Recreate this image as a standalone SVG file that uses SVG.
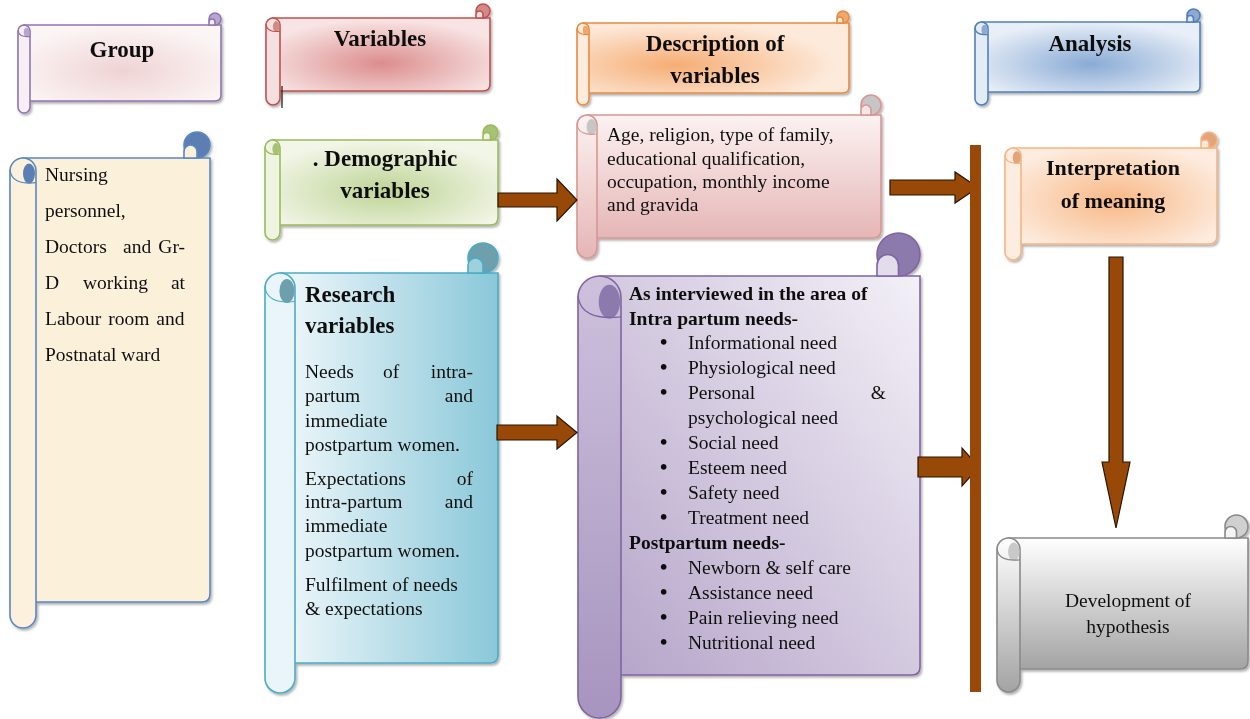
<svg xmlns="http://www.w3.org/2000/svg" width="1250" height="719" viewBox="0 0 1250 719">
<defs>
<filter id="sh" x="-5%" y="-5%" width="115%" height="115%"><feDropShadow dx="1.5" dy="2" stdDeviation="1.2" flood-color="#000" flood-opacity="0.3"/></filter>
<radialGradient id="gGroup" cx="50%" cy="60%" r="60%"><stop offset="0" stop-color="#efd3d4"/><stop offset="1" stop-color="#fcf5f5"/></radialGradient>
<radialGradient id="gVar" cx="50%" cy="62%" r="60%"><stop offset="0" stop-color="#dc8d8d"/><stop offset="1" stop-color="#f8e4e4"/></radialGradient>
<radialGradient id="gDesc" cx="35%" cy="60%" r="60%"><stop offset="0" stop-color="#f6ad74"/><stop offset="1" stop-color="#fdeadb"/></radialGradient>
<radialGradient id="gAna" cx="50%" cy="60%" r="60%"><stop offset="0" stop-color="#8aabd5"/><stop offset="1" stop-color="#e9eff8"/></radialGradient>
<radialGradient id="gDemo" cx="50%" cy="60%" r="60%"><stop offset="0" stop-color="#bfd496"/><stop offset="1" stop-color="#f2f6e8"/></radialGradient>
<radialGradient id="gInt" cx="50%" cy="55%" r="60%"><stop offset="0" stop-color="#f8b886"/><stop offset="1" stop-color="#fdecdf"/></radialGradient>
<linearGradient id="gRes" x1="0" y1="0" x2="1" y2="0"><stop offset="0" stop-color="#f0f8fb"/><stop offset="1" stop-color="#8ac8d9"/></linearGradient>
<linearGradient id="gAge" x1="0" y1="0" x2="0" y2="1"><stop offset="0" stop-color="#fcf2f2"/><stop offset="1" stop-color="#e5b6b5"/></linearGradient>
<linearGradient id="gPur" x1="1" y1="0" x2="0" y2="1"><stop offset="0" stop-color="#f3f0f7"/><stop offset="1" stop-color="#b4a3c8"/></linearGradient>
<linearGradient id="gPurRoll" x1="0" y1="0" x2="0" y2="1"><stop offset="0" stop-color="#cdc1dc"/><stop offset="1" stop-color="#a794bf"/></linearGradient>
<linearGradient id="gDev" x1="0" y1="0" x2="0" y2="1"><stop offset="0" stop-color="#ffffff"/><stop offset="1" stop-color="#a3a3a3"/></linearGradient>
</defs>
<style>
.t{font-family:"Liberation Serif","Times New Roman",serif;font-size:19.5px;fill:#111}
.b{font-weight:bold}
.bu{font-size:21px;font-weight:bold}
.h{font-family:"Liberation Serif","Times New Roman",serif;font-size:23px;font-weight:bold;fill:#111;text-anchor:middle}
.c{text-anchor:middle}
.e{text-anchor:end}
.sc{stroke-width:1.6}
.line{fill:none;stroke-width:1.2}
.arrow{fill:#984807;stroke:#2b1400;stroke-width:1.2}
.bar{fill:#984807}
</style>

<g id="group" filter="url(#sh)" stroke="#8f75b3" class="sc">
<path d="M24 25 H221 V95 Q221 101 215 101 H24 Z" fill="url(#gGroup)"/>
<circle cx="215" cy="19" r="6" fill="#b9a5cf"/>
<path d="M209 25 V22 A3 3 0 0 1 215 22 V25 Z" fill="#f6eef3"/>
<rect x="18" y="25" width="12" height="88" rx="6" fill="#f7eff4"/>
<ellipse cx="26.6" cy="32.2" rx="2.8" ry="4.5" fill="#b9a5cf" stroke="none"/>
<path class="line" d="M18 30.4 Q18.6 37.6 30 36.4"/>
<text class="h" x="122" y="57" stroke="none">Group</text>
</g>

<g id="variables" filter="url(#sh)" stroke="#c0504d" class="sc">
<path d="M273 18 H490 V84 Q490 91 483 91 H273 Z" fill="url(#gVar)"/>
<circle cx="483" cy="11" r="7" fill="#d28a88"/>
<path d="M476 18 V14.5 A3.5 3.5 0 0 1 483 14.5 V18 Z" fill="#f2dcdb"/>
<rect x="266" y="18" width="14" height="87" rx="7" fill="#f4e0df"/>
<ellipse cx="276.2" cy="26.4" rx="3.3" ry="5.3" fill="#d28a88" stroke="none"/>
<path class="line" d="M266 24.3 Q266.7 32.7 280 31.3"/>
<text class="h" x="380" y="46" stroke="none">Variables</text>
</g>
<g id="cursor"><line x1="282" y1="86" x2="282" y2="108" stroke="#1a1a1a" stroke-width="1.2"/></g>

<g id="description" filter="url(#sh)" stroke="#e98a3f" class="sc">
<path d="M583 23 H849 V87 Q849 93 843 93 H583 Z" fill="url(#gDesc)"/>
<circle cx="843" cy="17" r="6" fill="#f0a86b"/>
<path d="M837 23 V20 A3 3 0 0 1 843 20 V23 Z" fill="#fde9d9"/>
<rect x="577" y="23" width="12" height="82" rx="6" fill="#fdebdd"/>
<ellipse cx="585.6" cy="30.2" rx="2.8" ry="4.5" fill="#f0a86b" stroke="none"/>
<path class="line" d="M577 28.4 Q577.6 35.6 589 34.4"/>
<text class="h" x="715" y="51" stroke="none">Description of</text>
<text class="h" x="715" y="83" stroke="none">variables</text>
</g>

<g id="analysis" filter="url(#sh)" stroke="#4f81bd" class="sc">
<path d="M981.5 22 H1200 V86.5 Q1200 92 1193.5 92 H981.5 Z" fill="url(#gAna)"/>
<circle cx="1193.5" cy="15.5" r="6.5" fill="#8eaad0"/>
<path d="M1187 22 V18.75 A3.25 3.25 0 0 1 1193.5 18.75 V22 Z" fill="#dce6f2"/>
<rect x="975" y="22" width="13" height="83" rx="6.5" fill="#e3ebf5"/>
<ellipse cx="984.5" cy="29.8" rx="3" ry="5" fill="#8eaad0" stroke="none"/>
<path class="line" d="M975 27.85 Q975.65 35.65 988 34.35"/>
<text class="h" x="1090" y="51" stroke="none">Analysis</text>
</g>

<g id="nursing" filter="url(#sh)" stroke="#5b87c0" class="sc">
<path d="M23 158 H210 V594 Q210 602 202 602 H23 Z" fill="#fbf0da"/>
<circle cx="197" cy="145" r="13" fill="#5b7fb3"/>
<path d="M184 158 V151.5 A6.5 6.5 0 0 1 197 151.5 V158 Z" fill="#fbf0da"/>
<rect x="10" y="158" width="26" height="470" rx="13" fill="#fbf1dd"/>
<ellipse cx="29" cy="173.6" rx="6" ry="10" fill="#5b7fb3" stroke="none"/>
<path class="line" d="M10 169.7 Q11.3 185.3 36 182.7"/>
<g stroke="none">
<text class="t" x="45" y="181">Nursing</text>
<text class="t" x="45" y="217">personnel,</text>
<text class="t" x="45" y="253">Doctors</text><text class="t" x="123" y="253">and</text><text class="t e" x="185" y="253">Gr-</text>
<text class="t" x="45" y="289">D</text><text class="t" x="83" y="289">working</text><text class="t e" x="185" y="289">at</text>
<text class="t" x="45" y="325" word-spacing="2">Labour room and</text>
<text class="t" x="45" y="361">Postnatal ward</text>
</g>
</g>

<g id="demographic" filter="url(#sh)" stroke="#9bbb59" class="sc">
<path d="M272.5 140 H498 V217.5 Q498 225 490.5 225 H272.5 Z" fill="url(#gDemo)"/>
<circle cx="490.5" cy="132.5" r="7.5" fill="#a7c275"/>
<path d="M483 140 V136.25 A3.75 3.75 0 0 1 490.5 136.25 V140 Z" fill="#eef3e2"/>
<rect x="265" y="140" width="15" height="100" rx="7.5" fill="#eef3e2"/>
<ellipse cx="276" cy="149" rx="3.6" ry="6" fill="#a7c275" stroke="none"/>
<path class="line" d="M265 146.75 Q265.75 155.75 280 154.25"/>
<text class="h" x="385" y="166" stroke="none">. Demographic</text>
<text class="h" x="385" y="198" stroke="none">variables</text>
</g>

<g id="research" filter="url(#sh)" stroke="#4bacc6" class="sc">
<path d="M280 273 H498 V655 Q498 663 490 663 H280 Z" fill="url(#gRes)"/>
<circle cx="483" cy="258" r="15" fill="#6d9fac"/>
<path d="M468 273 V265.5 A7.5 7.5 0 0 1 483 265.5 V273 Z" fill="#9fd0de"/>
<rect x="265" y="273" width="30" height="420" rx="15" fill="#e9f5f9"/>
<ellipse cx="286.9" cy="291" rx="7.5" ry="12" fill="#6d9fac" stroke="none"/>
<path class="line" d="M265 286.5 Q266.5 304.5 295 301.5"/>
<g stroke="none">
<text class="t b" x="305" y="302" style="font-size:23px">Research</text>
<text class="t b" x="305" y="333" style="font-size:23px">variables</text>
<text class="t" x="305" y="378">Needs</text><text class="t" x="383" y="378">of</text><text class="t e" x="473" y="378">intra-</text>
<text class="t" x="305" y="402">partum</text><text class="t e" x="473" y="402">and</text>
<text class="t" x="305" y="427">immediate</text>
<text class="t" x="305" y="451">postpartum women.</text>
<text class="t" x="305" y="485">Expectations</text><text class="t e" x="473" y="485">of</text>
<text class="t" x="305" y="508">intra-partum</text><text class="t e" x="473" y="508">and</text>
<text class="t" x="305" y="532">immediate</text>
<text class="t" x="305" y="557">postpartum women.</text>
<text class="t" x="305" y="591">Fulfilment of needs</text>
<text class="t" x="305" y="615">&amp; expectations</text>
</g>
</g>

<g id="age" filter="url(#sh)" stroke="#d99694" class="sc">
<path d="M587 115 H881 V230 Q881 238 873 238 H587 Z" fill="url(#gAge)"/>
<circle cx="871" cy="105" r="10" fill="#c6c6c6"/>
<path d="M861 115 V110 A5 5 0 0 1 871 110 V115 Z" fill="#f7e6e6"/>
<rect x="577" y="115" width="20" height="143" rx="10" fill="url(#gAge)"/>
<ellipse cx="591.6" cy="127" rx="5" ry="8" fill="#c6c6c6" stroke="none"/>
<path class="line" d="M577 124 Q578 136 597 134"/>
<g stroke="none">
<text class="t" x="607" y="141">Age, religion, type of family,</text>
<text class="t" x="607" y="165">educational qualification,</text>
<text class="t" x="607" y="188">occupation, monthly income</text>
<text class="t" x="607" y="211">and gravida</text>
</g>
</g>

<g id="needs" filter="url(#sh)" stroke="#8064a2" class="sc">
<path d="M599.5 276 H920 V667 Q920 675 912 675 H599.5 Z" fill="url(#gPur)"/>
<circle cx="898.5" cy="254.5" r="21.5" fill="#8d7aad"/>
<path d="M877 276 V265.25 A10.75 10.75 0 0 1 898.5 265.25 V276 Z" fill="#e3ddeb"/>
<rect x="578" y="276" width="43" height="442" rx="21.5" fill="url(#gPurRoll)"/>
<ellipse cx="609.4" cy="301.8" rx="10.7" ry="17" fill="#8d7aad" stroke="none"/>
<path class="line" d="M578 295.35 Q580.15 321.15 621 316.85"/>
<g stroke="none">
<text class="t b" x="629" y="300">As interviewed in the area of</text>
<text class="t b" x="629" y="325">Intra partum needs-</text>
<text class="t" y="349"><tspan class="bu" x="660">•</tspan><tspan x="688">Informational need</tspan></text>
<text class="t" y="374"><tspan class="bu" x="660">•</tspan><tspan x="688">Physiological need</tspan></text>
<text class="t" y="399"><tspan class="bu" x="660">•</tspan><tspan x="688">Personal</tspan></text><text class="t e" x="886" y="399">&amp;</text>
<text class="t" x="688" y="424">psychological need</text>
<text class="t" y="449"><tspan class="bu" x="660">•</tspan><tspan x="688">Social need</tspan></text>
<text class="t" y="474"><tspan class="bu" x="660">•</tspan><tspan x="688">Esteem need</tspan></text>
<text class="t" y="499"><tspan class="bu" x="660">•</tspan><tspan x="688">Safety need</tspan></text>
<text class="t" y="524"><tspan class="bu" x="660">•</tspan><tspan x="688">Treatment need</tspan></text>
<text class="t b" x="629" y="549">Postpartum needs-</text>
<text class="t" y="574"><tspan class="bu" x="660">•</tspan><tspan x="688">Newborn &amp; self care</tspan></text>
<text class="t" y="599"><tspan class="bu" x="660">•</tspan><tspan x="688">Assistance need</tspan></text>
<text class="t" y="624"><tspan class="bu" x="660">•</tspan><tspan x="688">Pain relieving need</tspan></text>
<text class="t" y="649"><tspan class="bu" x="660">•</tspan><tspan x="688">Nutritional need</tspan></text>
</g>
</g>

<g id="interpretation" filter="url(#sh)" stroke="#f5b584" class="sc">
<path d="M1013 148 H1217 V236 Q1217 244 1209 244 H1013 Z" fill="url(#gInt)"/>
<circle cx="1209" cy="140" r="8" fill="#e3a47a"/>
<path d="M1201 148 V144 A4 4 0 0 1 1209 144 V148 Z" fill="#fde9d9"/>
<rect x="1005" y="148" width="16" height="112" rx="8" fill="#fdede0"/>
<ellipse cx="1016.7" cy="157.6" rx="4" ry="6.4" fill="#e3a47a" stroke="none"/>
<path class="line" d="M1005 155.2 Q1005.8 164.8 1021 163.2"/>
<text class="h" x="1113" y="175" stroke="none" style="font-size:22px">Interpretation</text>
<text class="h" x="1113" y="208" stroke="none" style="font-size:22px">of meaning</text>
</g>

<g id="development" filter="url(#sh)" stroke="#8a8a8a" class="sc">
<path d="M1008.5 538 H1248 V661 Q1248 669 1240 669 H1008.5 Z" fill="url(#gDev)"/>
<circle cx="1236.5" cy="526.5" r="11.5" fill="#d0d0d0"/>
<path d="M1225 538 V532.25 A5.75 5.75 0 0 1 1236.5 532.25 V538 Z" fill="#f4f4f4"/>
<rect x="997" y="538" width="23" height="154" rx="11.5" fill="url(#gDev)"/>
<ellipse cx="1013.8" cy="551.8" rx="5.75" ry="9.2" fill="#c9c9c9" stroke="none"/>
<path class="line" d="M997 548.35 Q998.15 562.15 1020 559.85"/>
<g stroke="none">
<text class="t c" x="1128" y="607">Development of</text>
<text class="t c" x="1128" y="633">hypothesis</text>
</g>
</g>

<g id="connectors">
<polygon class="arrow" points="498,193 557,193 557,179 577,200 557,221 557,207 498,207"/>
<polygon class="arrow" points="497,425 557,425 557,416 577,432.5 557,449 557,440 497,440"/>
<polygon class="arrow" points="890,180 955,180 955,172 978,187.5 955,203 955,195 890,195"/>
<polygon class="arrow" points="918,457 962,457 962,448 979,467 962,486 962,477 918,477"/>
<rect class="bar" x="970" y="145" width="11" height="547"/>
<polygon class="arrow" points="1109,257 1123,257 1123,462 1130,462 1116,528 1102,462 1109,462"/>
</g>
</svg>
